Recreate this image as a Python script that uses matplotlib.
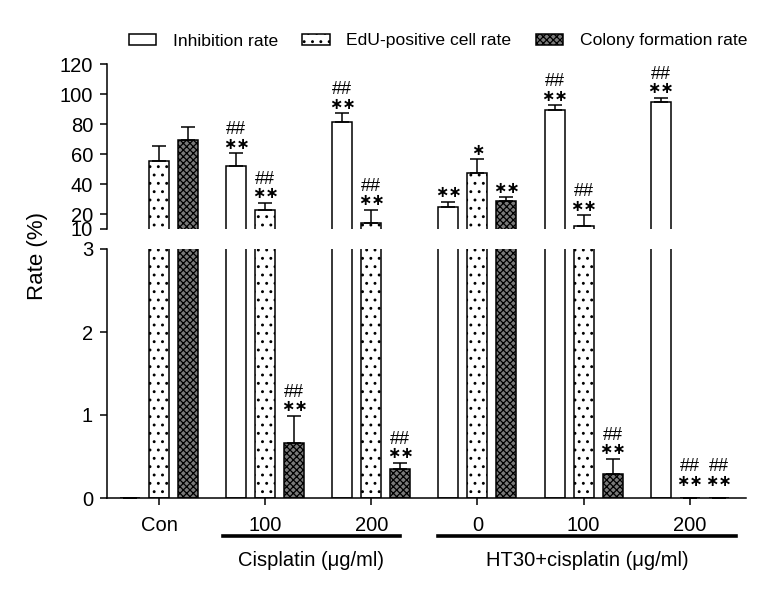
import numpy as np
import matplotlib
matplotlib.use("Agg")
import matplotlib.pyplot as plt
from matplotlib.patches import Patch
from matplotlib.transforms import blended_transform_factory

# groups along the x axis
groups = ["Con", "100", "200", "0", "100", "200"]

# mean rate (%) and upper SD for each series
inhibition = [0.0, 52.0, 81.5, 24.7, 89.3, 94.4]
inhibition_sd = [0.0, 8.5, 5.6, 3.3, 3.1, 3.1]
edu = [55.3, 22.7, 13.8, 47.5, 12.2, 0.0]
edu_sd = [10.0, 4.8, 8.9, 8.9, 7.1, 0.0]
colony = [69.3, 0.66, 0.345, 28.7, 0.29, 0.0]
colony_sd = [8.7, 0.33, 0.08, 2.4, 0.18, 0.0]

# significance marks ("" = none)
inhibition_marks = ["", "##\n**", "##\n**", "**", "##\n**", "##\n**"]
edu_marks = ["", "##\n**", "##\n**", "*", "##\n**", "##\n**"]
colony_marks = ["", "##\n**", "##\n**", "**", "##\n**", "##\n**"]

series_names = ["Inhibition rate", "EdU-positive cell rate", "Colony formation rate"]
top_ticks = [10, 20, 40, 60, 80, 100, 120]
bottom_ticks = [0, 1, 2, 3]

plt.rcParams["font.family"] = ["Liberation Sans", "DejaVu Sans"]
plt.rcParams["hatch.linewidth"] = 0.9
TS = 14.5

W, H = 775, 593
fig = plt.figure(figsize=(W / 100, H / 100), dpi=100)

def fx(px):
    return px / W

def fy(px):
    return 1 - px / H

x0, x1 = 107, 746
ax_top = fig.add_axes([fx(x0), fy(229), fx(x1 - x0), fy(64) - fy(229)])
ax_bot = fig.add_axes([fx(x0), fy(498), fx(x1 - x0), fy(249) - fy(498)])

x = np.arange(len(groups))
width = 0.188
off = 0.273
styles = [
    dict(facecolor="white", hatch=None),
    dict(facecolor="white", hatch=".."),
    dict(facecolor="#7a7a7a", hatch="xxxxx"),
]
series = [(inhibition, inhibition_sd, inhibition_marks),
          (edu, edu_sd, edu_marks),
          (colony, colony_sd, colony_marks)]

for ax in (ax_top, ax_bot):
    for i, (vals, sds, marks) in enumerate(series):
        xs = x + (i - 1) * off
        ax.bar(xs, vals, width, edgecolor="black", linewidth=1.1, **styles[i])
        ax.errorbar(xs, vals, yerr=[np.zeros(len(sds)), sds], fmt="none",
                    ecolor="black", elinewidth=1.1, capsize=5, capthick=1.1)
    ax.set_xlim(-0.49, 5.53)
    ax.spines["top"].set_visible(False)
    ax.spines["right"].set_visible(False)
    for s in ax.spines.values():
        s.set_linewidth(1.1)
    ax.tick_params(axis="y", length=5, width=1.1, labelsize=TS, pad=5)

ax_top.set_ylim(10, 120)
ax_top.set_yticks(top_ticks)
ax_top.spines["bottom"].set_visible(False)
ax_top.set_xticks([])

ax_bot.set_ylim(0, 3)
ax_bot.set_yticks(bottom_ticks)
ax_bot.set_xticks(x)
ax_bot.set_xticklabels(groups)
ax_bot.tick_params(axis="x", length=5, width=1.1, labelsize=TS, pad=8)

# significance marks
for i, (vals, sds, marks) in enumerate(series):
    for j, m in enumerate(marks):
        if not m:
            continue
        top = vals[j] + sds[j]
        ax = ax_top if top > 10 else ax_bot
        xs = x[j] + (i - 1) * off
        base = 6.5 if sds[j] > 0 else 12
        lines = m.split("\n")
        ax.annotate(lines[-1].replace("*", "\u2217"), (xs, top), xytext=(0, base),
                    textcoords="offset points", ha="center", va="center",
                    fontsize=11.5, fontweight="bold", family="DejaVu Sans",
                    annotation_clip=False)
        if len(lines) > 1:
            ax.annotate(lines[0], (xs, top), xytext=(0, base + 10.5),
                        textcoords="offset points", ha="center", va="center",
                        fontsize=13, annotation_clip=False)

# group underlines
trans = blended_transform_factory(ax_bot.transData, fig.transFigure)
for label, a, b in [("Cisplatin (\u03bcg/ml)", 1 - 0.40, 2 + 0.27),
                    ("HT30+cisplatin (\u03bcg/ml)", 3 - 0.37, 5 + 0.44)]:
    fig.lines.append(plt.Line2D([a, b], [fy(536), fy(536)], transform=trans,
                                color="black", linewidth=2.6))
    fig.text((a + b) / 2, fy(561), label, transform=trans, ha="center",
             va="center", fontsize=TS)

fig.text(fx(37), fy(256), "Rate (%)", rotation=90, ha="center", va="center",
         fontsize=16)

handles = [Patch(facecolor=styles[i]["facecolor"], edgecolor="black", linewidth=1.1,
                 hatch=styles[i]["hatch"], label=series_names[i]) for i in range(3)]
fig.legend(handles=handles, loc="center", bbox_to_anchor=(fx(438), fy(41)),
           ncol=3, frameon=False, fontsize=12.6, handlelength=1.55,
           handleheight=0.6, handletextpad=0.95, columnspacing=1.4)

fig.savefig("out.png", dpi=100)
